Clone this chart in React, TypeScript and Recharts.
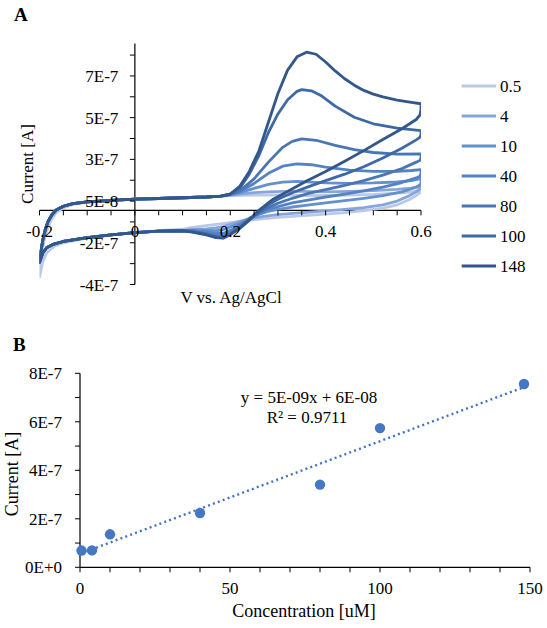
import React from 'react';
import { ComposedChart, Line, XAxis, YAxis, ReferenceLine, Legend, Scatter } from 'recharts';

const FONT = '"Liberation Serif", "Times New Roman", Times, serif';

// ---------- Panel A data (current in units of 1E-7 A, potential in V) ----------
const FWD_START: [number, number][] = [
  [-0.2, -2.8], [-0.197, -2.2], [-0.193, -1.6], [-0.188, -1.05], [-0.182, -0.6], [-0.174, -0.24],
  [-0.165, 0.02], [-0.15, 0.22], [-0.13, 0.36], [-0.1, 0.46], [-0.05, 0.54], [0, 0.6],
  [0.05, 0.64], [0.1, 0.68], [0.15, 0.72], [0.18, 0.77],
];
const REV_END: [number, number][] = [
  [0.1, -1.1], [0.05, -1.12], [0, -1.2], [-0.05, -1.32], [-0.1, -1.47], [-0.15, -1.68],
  [-0.17, -1.82], [-0.185, -2.02], [-0.193, -2.3], [-0.2, -2.8],
];
const FWD_START_LOW: [number, number][] = [
  [-0.2, -3.6], [-0.198, -2.9], [-0.195, -2.3], [-0.19, -1.6], [-0.183, -0.95], [-0.175, -0.5],
  [-0.165, -0.12], [-0.15, 0.14], [-0.13, 0.32], [-0.1, 0.44], [-0.05, 0.53], [0, 0.6],
  [0.05, 0.64], [0.1, 0.68], [0.15, 0.72], [0.18, 0.76],
];
const REV_END_LOW: [number, number][] = [
  [0.1, -1.02], [0.05, -1.1], [0, -1.2], [-0.05, -1.33], [-0.1, -1.5], [-0.15, -1.75],
  [-0.17, -1.95], [-0.185, -2.3], [-0.193, -2.75], [-0.2, -3.6],
];

const MID_0_5: [number, number][] = [
  [0.2, 0.8], [0.25, 0.82], [0.3, 0.83], [0.35, 0.8], [0.4, 0.8], [0.45, 0.82], [0.5, 0.86],
  [0.55, 0.93], [0.58, 0.99], [0.6, 1.08],
  [0.6, 1.0], [0.59, 0.8], [0.575, 0.57], [0.55, 0.3], [0.52, 0.12], [0.48, -0.02], [0.44, -0.12],
  [0.4, -0.2], [0.345, -0.3], [0.3, -0.38], [0.25, -0.5], [0.2, -0.66], [0.15, -0.82], [0.12, -0.92],
];
const MID_4: [number, number][] = [
  [0.2, 0.82], [0.22, 0.88], [0.25, 0.96], [0.28, 1.0], [0.31, 1.02], [0.35, 1.02], [0.4, 1.0],
  [0.45, 1.02], [0.5, 1.06], [0.55, 1.13], [0.58, 1.2], [0.6, 1.3],
  [0.6, 1.2], [0.59, 1.0], [0.575, 0.78], [0.55, 0.5], [0.52, 0.3], [0.48, 0.15], [0.44, 0.05],
  [0.4, -0.03], [0.366, -0.1], [0.33, -0.16], [0.3, -0.23], [0.27, -0.33], [0.24, -0.46],
  [0.22, -0.6], [0.2, -0.75], [0.185, -0.88], [0.17, -0.95], [0.15, -1.0], [0.12, -1.03],
];
const MID_10: [number, number][] = [
  [0.2, 0.84], [0.22, 0.96], [0.25, 1.18], [0.28, 1.4], [0.31, 1.52], [0.34, 1.56], [0.37, 1.52],
  [0.4, 1.48], [0.45, 1.46], [0.5, 1.48], [0.55, 1.53], [0.58, 1.6], [0.6, 1.72],
  [0.6, 1.5], [0.598, 1.38], [0.59, 1.25], [0.56, 1.0], [0.52, 0.8], [0.48, 0.65], [0.44, 0.52],
  [0.4, 0.4], [0.366, 0.3], [0.33, 0.18], [0.3, 0.05], [0.28, -0.05], [0.26, -0.22], [0.24, -0.42],
  [0.22, -0.68], [0.2, -0.9], [0.185, -1.05], [0.17, -1.1], [0.15, -1.08], [0.12, -1.07],
];
const MID_40: [number, number][] = [
  [0.2, 0.86], [0.22, 1.0], [0.25, 1.45], [0.28, 2.0], [0.31, 2.38], [0.34, 2.51], [0.37, 2.46],
  [0.4, 2.33], [0.45, 2.17], [0.5, 2.1], [0.55, 2.1], [0.58, 2.15], [0.6, 2.2],
  [0.6, 2.0], [0.598, 1.85], [0.59, 1.75], [0.56, 1.5], [0.52, 1.25], [0.48, 1.05], [0.44, 0.88],
  [0.4, 0.72], [0.366, 0.57], [0.33, 0.4], [0.3, 0.2], [0.28, 0.05], [0.26, -0.18], [0.24, -0.45],
  [0.22, -0.8], [0.2, -1.08], [0.185, -1.25], [0.17, -1.25], [0.15, -1.17], [0.12, -1.1],
];
const MID_80: [number, number][] = [
  [0.2, 0.87], [0.22, 1.05], [0.25, 1.7], [0.28, 2.6], [0.31, 3.4], [0.33, 3.72], [0.35, 3.86],
  [0.38, 3.78], [0.42, 3.5], [0.46, 3.27], [0.5, 3.12], [0.55, 3.03], [0.6, 3.05],
  [0.6, 2.85], [0.598, 2.7], [0.59, 2.6], [0.56, 2.25], [0.52, 1.9], [0.48, 1.6], [0.44, 1.35],
  [0.4, 1.12], [0.366, 0.93], [0.33, 0.65], [0.3, 0.38], [0.28, 0.15], [0.26, -0.12], [0.24, -0.5],
  [0.22, -0.9], [0.2, -1.22], [0.185, -1.4], [0.17, -1.38], [0.15, -1.25], [0.12, -1.13],
];
const MID_100: [number, number][] = [
  [0.2, 0.88], [0.22, 1.2], [0.24, 1.95], [0.26, 2.95], [0.28, 4.2], [0.3, 5.2], [0.32, 5.95],
  [0.34, 6.42], [0.35, 6.51], [0.37, 6.45], [0.39, 6.2], [0.42, 5.62], [0.46, 5.02], [0.5, 4.67],
  [0.55, 4.43], [0.6, 4.3],
  [0.6, 4.1], [0.598, 3.95], [0.59, 3.8], [0.56, 3.35], [0.52, 2.82], [0.48, 2.35], [0.44, 1.95],
  [0.4, 1.6], [0.366, 1.29], [0.33, 0.95], [0.3, 0.6], [0.28, 0.3], [0.265, 0.0], [0.25, -0.3],
  [0.235, -0.65], [0.22, -0.98], [0.2, -1.3], [0.185, -1.48], [0.17, -1.45], [0.15, -1.3], [0.12, -1.15],
];
const MID_148: [number, number][] = [
  [0.2, 0.88], [0.22, 1.3], [0.24, 2.1], [0.26, 3.2], [0.28, 4.75], [0.3, 6.3], [0.32, 7.55],
  [0.34, 8.28], [0.36, 8.53], [0.38, 8.42], [0.4, 8.0], [0.42, 7.52], [0.44, 7.1], [0.46, 6.75],
  [0.48, 6.47], [0.5, 6.27], [0.52, 6.12], [0.55, 5.95], [0.58, 5.83], [0.6, 5.75],
  [0.6, 5.45], [0.598, 5.15], [0.59, 4.9], [0.56, 4.4], [0.52, 3.82], [0.48, 3.22], [0.44, 2.65],
  [0.4, 2.1], [0.36, 1.58], [0.32, 1.02], [0.29, 0.6], [0.26, 0.0], [0.24, -0.5], [0.22, -0.95],
  [0.2, -1.3], [0.185, -1.5], [0.17, -1.47], [0.15, -1.32], [0.12, -1.17],
];

const CV_SERIES = [
  { name: '0.5', color: '#b9c9e8', points: [...FWD_START_LOW, ...MID_0_5, ...REV_END_LOW] },
  { name: '4', color: '#86a6db', points: [...FWD_START, ...MID_4, ...REV_END] },
  { name: '10', color: '#6590ce', points: [...FWD_START, ...MID_10, ...REV_END] },
  { name: '40', color: '#5582c2', points: [...FWD_START, ...MID_40, ...REV_END] },
  { name: '80', color: '#4a76b5', points: [...FWD_START, ...MID_80, ...REV_END] },
  { name: '100', color: '#3f69a6', points: [...FWD_START, ...MID_100, ...REV_END] },
  { name: '148', color: '#33578a', points: [...FWD_START, ...MID_148, ...REV_END] },
];
const SERIES_ORDER = CV_SERIES.map((s) => s.name);

const A_X_TICKS = [-0.2, -0.15, -0.1, -0.05, 0, 0.05, 0.1, 0.15, 0.2, 0.25, 0.3, 0.35, 0.4, 0.45, 0.5, 0.55, 0.6];
const A_X_MAJOR = [-0.2, 0, 0.2, 0.4, 0.6];
const A_X_LABELS = ['-0.2', '0', '0.2', '0.4', '0.6'];
const A_Y_TICKS = [-4, -2.875, -1.75, -0.625, 0.5, 1.625, 2.75, 3.875, 5, 6.125, 7.25, 8.375];
const A_Y_MAJOR = [-4, -1.75, 0.5, 2.75, 5, 7.25];
const A_Y_LABELS = ['-4E-7', '-2E-7', '5E-8', '3E-7', '5E-7', '7E-7'];

// ---------- Panel B data (current in units of 1E-7 A) ----------
const CONC = [0.5, 4, 10, 40, 80, 100, 148];
const PEAK_CURRENT = [0.69, 0.7, 1.36, 2.24, 3.41, 5.74, 7.56];
const TREND_X = [0.5, 148];
const TREND_Y = [0.58, 7.43];
const B_X_TICKS = [0, 10, 20, 30, 40, 50, 60, 70, 80, 90, 100, 110, 120, 130, 140, 150];
const B_X_MAJOR = [0, 50, 100, 150];
const B_X_LABELS = ['0', '50', '100', '150'];
const B_Y_TICKS = [0, 1, 2, 3, 4, 5, 6, 7, 8];
const B_Y_MAJOR = [0, 2, 4, 6, 8];
const B_Y_LABELS = ['0E+0', '2E-7', '4E-7', '6E-7', '8E-7'];

// ---------- layout ----------
const A_W = 547, A_H = 320;
const A_PLOT = { top: 43.5, right: 126, bottom: 35.5, left: 39.5 };
const A_M = { top: A_PLOT.top, right: A_PLOT.right, bottom: A_PLOT.bottom - 1, left: A_PLOT.left - 1 };
const A_XDOM: [number, number] = [-0.2, 0.6];
const A_YDOM: [number, number] = [-4, 9];
const A_PW = A_W - A_PLOT.left - A_PLOT.right;
const A_PH = A_H - A_PLOT.top - A_PLOT.bottom;
const A_X0 = A_PLOT.left + ((0 - A_XDOM[0]) / (A_XDOM[1] - A_XDOM[0])) * A_PW;
const A_Y0 = A_PLOT.top + ((A_YDOM[1] - 0) / (A_YDOM[1] - A_YDOM[0])) * A_PH;

const B_W = 547, B_H = 308, B_TOP = 320;
const B_PLOT = { top: 53.3, right: 17, bottom: 60.7, left: 80 };
const B_M = { top: B_PLOT.top, right: B_PLOT.right, bottom: B_PLOT.bottom - 1, left: B_PLOT.left - 1 };

const near = (a: number, b: number) => Math.abs(a - b) < 1e-9;

const XTickA = (props: any) => {
  const { x, payload } = props;
  const idx = A_X_MAJOR.findIndex((m) => near(m, payload.value));
  return (
    <g>
      <line x1={x} x2={x} y1={A_Y0} y2={A_Y0 + 5} stroke="#000" strokeWidth={1} />
      {idx >= 0 && (
        <text x={x} y={A_Y0 + 27} textAnchor="middle" fontFamily={FONT} fontSize={17} fill="#000">
          {A_X_LABELS[idx]}
        </text>
      )}
    </g>
  );
};

const YTickA = (props: any) => {
  const { y, payload } = props;
  const idx = A_Y_MAJOR.findIndex((m) => near(m, payload.value));
  return (
    <g>
      <line x1={A_X0 - 5} x2={A_X0} y1={y} y2={y} stroke="#000" strokeWidth={1} />
      {idx >= 0 && (
        <text x={A_X0 - 16.5} y={y + 6} textAnchor="end" fontFamily={FONT} fontSize={17} fill="#000">
          {A_Y_LABELS[idx]}
        </text>
      )}
    </g>
  );
};

const XTickB = (props: any) => {
  const { x, payload } = props;
  const idx = B_X_MAJOR.findIndex((m) => near(m, payload.value));
  if (idx < 0) return <g />;
  return (
    <text x={x} y={B_H - B_PLOT.bottom + 26.5} textAnchor="middle" fontFamily={FONT} fontSize={17} fill="#000">
      {B_X_LABELS[idx]}
    </text>
  );
};

const YTickB = (props: any) => {
  const { y, payload } = props;
  const idx = B_Y_MAJOR.findIndex((m) => near(m, payload.value));
  if (idx < 0) return <g />;
  return (
    <text x={B_PLOT.left - 18} y={y + 6} textAnchor="end" fontFamily={FONT} fontSize={17} fill="#000">
      {B_Y_LABELS[idx]}
    </text>
  );
};

const LegendA = (props: any) => {
  const payload = [...(props.payload || [])].sort(
    (a: any, b: any) => SERIES_ORDER.indexOf(String(a.value)) - SERIES_ORDER.indexOf(String(b.value)),
  );
  return (
    <div>
      {payload.map((e: any) => (
        <div key={e.value} style={{ height: 30, display: 'flex', alignItems: 'center' }}>
          <svg width={37} height={6} style={{ display: 'block' }}>
            <line x1={1.7} x2={36} y1={3} y2={3} stroke={e.color} strokeWidth={3} />
          </svg>
          <span style={{ fontFamily: FONT, fontSize: 17, marginLeft: 3, lineHeight: '17px', color: '#000' }}>
            {e.value}
          </span>
        </div>
      ))}
    </div>
  );
};

export default function App() {
  const scatterData = CONC.map((c, i) => ({ x: c, y: PEAK_CURRENT[i] }));
  const trendData = TREND_X.map((c, i) => ({ x: c, y: TREND_Y[i] }));
  return (
    <div style={{ position: 'absolute', left: 0, top: 0, width: 547, height: 628, background: '#fff', overflow: 'hidden' }}>
      <div style={{ position: 'absolute', left: 0, top: 0 }}>
        <ComposedChart width={A_W} height={A_H} margin={A_M}>
          <XAxis
            type="number"
            dataKey="v"
            domain={A_XDOM}
            ticks={A_X_TICKS}
            interval={0}
            height={1}
            axisLine={false}
            tickLine={false}
            tick={<XTickA />}
            allowDataOverflow
          />
          <YAxis
            type="number"
            dataKey="i"
            domain={A_YDOM}
            ticks={A_Y_TICKS}
            interval={0}
            width={1}
            axisLine={false}
            tickLine={false}
            tick={<YTickA />}
            allowDataOverflow
          />
          <ReferenceLine x={0} stroke="#000" strokeWidth={1.2} />
          <ReferenceLine y={0} stroke="#000" strokeWidth={1.2} />
          {CV_SERIES.map((s) => (
            <Line
              key={s.name}
              name={s.name}
              data={s.points.map(([v, i]) => ({ v, i }))}
              dataKey="i"
              type="linear"
              stroke={s.color}
              strokeWidth={2.8}
              strokeLinejoin="round"
              strokeLinecap="round"
              dot={false}
              activeDot={false}
              isAnimationActive={false}
              legendType="line"
            />
          ))}
          <Legend
            layout="vertical"
            align="center"
            verticalAlign="middle"
            wrapperStyle={{ left: 460, top: 71, width: 87, height: 212 }}
            content={<LegendA />}
          />
        </ComposedChart>
      </div>
      <div style={{ position: 'absolute', left: 0, top: B_TOP }}>
        <ComposedChart width={B_W} height={B_H} margin={B_M}>
          <XAxis
            type="number"
            dataKey="x"
            domain={[0, 150]}
            ticks={B_X_TICKS}
            interval={0}
            height={1}
            axisLine={{ stroke: '#000', strokeWidth: 1.2 }}
            tickLine={{ stroke: '#000', strokeWidth: 1 }}
            tickSize={5}
            tick={<XTickB />}
          />
          <YAxis
            type="number"
            dataKey="y"
            domain={[0, 8]}
            ticks={B_Y_TICKS}
            interval={0}
            width={1}
            axisLine={{ stroke: '#000', strokeWidth: 1.2 }}
            tickLine={{ stroke: '#000', strokeWidth: 1 }}
            tickSize={5}
            tick={<YTickB />}
          />
          <Line
            data={trendData}
            dataKey="y"
            type="linear"
            stroke="#4472c4"
            strokeWidth={2.4}
            strokeDasharray="2 3.2"
            dot={false}
            activeDot={false}
            isAnimationActive={false}
          />
          <Scatter
            data={scatterData}
            dataKey="y"
            fill="#4677c2"
            isAnimationActive={false}
            shape={(p: any) => <circle cx={p.cx} cy={p.cy} r={5.2} fill="#4677c2" />}
          />
        </ComposedChart>
      </div>
      <svg width={547} height={628} style={{ position: 'absolute', left: 0, top: 0, pointerEvents: 'none' }}>
        <g fontFamily={FONT} fill="#000">
          <text x={14} y={21} fontSize={19} fontWeight="bold">A</text>
          <text x={13} y={351} fontSize={19} fontWeight="bold">B</text>
          <text transform="translate(27,164) rotate(-90)" textAnchor="middle" dominantBaseline="central" fontSize={17}>
            Current [A]
          </text>
          <text x={231} y={303} textAnchor="middle" fontSize={17}>V vs. Ag/AgCl</text>
          <text transform="translate(12,474) rotate(-90)" textAnchor="middle" dominantBaseline="central" fontSize={18}>
            Current [A]
          </text>
          <text x={304} y={617} textAnchor="middle" fontSize={18}>Concentration [uM]</text>
          <text x={309} y={402.5} textAnchor="middle" fontSize={17}>y = 5E-09x + 6E-08</text>
          <text x={307} y={423} textAnchor="middle" fontSize={17}>R² = 0.9711</text>
        </g>
      </svg>
    </div>
  );
}
